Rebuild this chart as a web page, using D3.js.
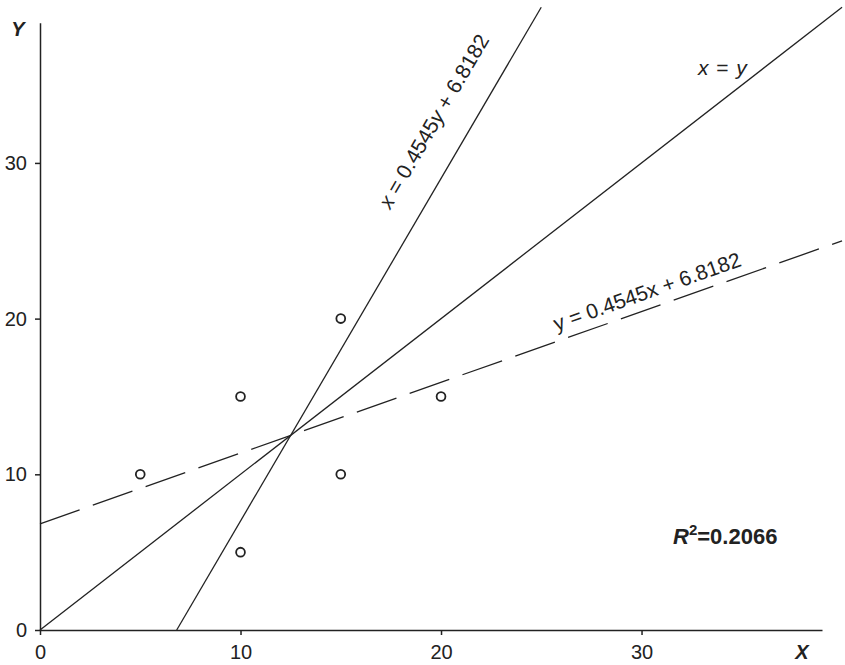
<!DOCTYPE html>
<html>
<head>
<meta charset="utf-8">
<script src="https://cdn.jsdelivr.net/npm/d3@7"></script>
<style>
  body { margin: 0; background: #fff; }
  svg { font-family: "Liberation Sans", Arial, Helvetica, sans-serif; }
  .tick line, .domain { stroke: #222; stroke-width: 1.5; }
  .tick text { font-size: 20px; fill: #222; }
</style>
</head>
<body>
<div id="chart"></div>
<script>
// Data
const xValues = [5, 10, 10, 15, 15, 20]
const yValues = [10, 15, 5, 20, 10, 15]
const xTicks = [0, 10, 20, 30]
const yTicks = [0, 10, 20, 30]
const slope = 0.4545
const intercept = 6.8182
const rSquared = '0.2066'
const lineExtent = [0, 40]

// Dimensions
let dimensions = {
  width: 845,
  height: 665,
  left: 40,
  right: 822,
  top: 22.8,
  bottom: 630,
}

const svg = d3.select('#chart')
  .append('svg')
  .attr('width', dimensions.width)
  .attr('height', dimensions.height)

// scales
const x = d3.scaleLinear()
  .domain([0, 39])
  .range([dimensions.left, dimensions.right])

const y = d3.scaleLinear()
  .domain([0, 39])
  .range([dimensions.bottom, dimensions.top])

// axes
svg.append('g')
  .attr('transform', `translate(0, ${dimensions.bottom})`)
  .call(d3.axisBottom(x).tickValues(xTicks).tickSize(5).tickSizeOuter(0).tickPadding(10))
  .call(g => g.selectAll('.tick text').attr('font-family', null))

svg.append('g')
  .attr('transform', `translate(${dimensions.left}, 0)`)
  .call(d3.axisLeft(y).tickValues(yTicks).tickSize(5).tickSizeOuter(0).tickPadding(8))
  .call(g => g.selectAll('.tick text').attr('font-family', null))

svg.append('text')
  .attr('x', 18).attr('y', 36)
  .attr('text-anchor', 'middle')
  .attr('font-size', 20).attr('font-weight', 'bold').attr('font-style', 'italic')
  .attr('fill', '#222')
  .text('Y')

svg.append('text')
  .attr('x', 802).attr('y', 659)
  .attr('text-anchor', 'middle')
  .attr('font-size', 20).attr('font-weight', 'bold').attr('font-style', 'italic')
  .attr('fill', '#222')
  .text('X')

// lines
const line = d3.line().x(d => x(d[0])).y(d => y(d[1]))

const lines = [
  { pts: lineExtent.map(v => [v, v]), dash: null },
  { pts: lineExtent.map(v => [slope * v + intercept, v]), dash: null },
  { pts: lineExtent.map(v => [v, slope * v + intercept]), dash: '42,14' },
]

svg.append('g')
  .attr('fill', 'none')
  .attr('stroke', '#222')
  .attr('stroke-width', 1.3)
  .selectAll('path')
  .data(lines)
  .join('path')
  .attr('d', d => line(d.pts))
  .attr('stroke-dasharray', d => d.dash)

// points
svg.append('g')
  .attr('fill', '#fff')
  .attr('stroke', '#222')
  .attr('stroke-width', 1.8)
  .selectAll('circle')
  .data(xValues)
  .join('circle')
  .attr('cx', d => x(d))
  .attr('cy', (d, i) => y(yValues[i]))
  .attr('r', 4.4)

// labels
function angleOf(f) {
  const p0 = f(lineExtent[0]), p1 = f(lineExtent[1])
  return Math.atan2(y(p1[1]) - y(p0[1]), x(p1[0]) - x(p0[0])) * 180 / Math.PI
}

const steep = svg.append('text')
  .attr('font-size', 21).attr('fill', '#222')
  .attr('text-anchor', 'middle')
  .attr('transform', `translate(${x(19.95)}, ${y(32.45)}) rotate(${angleOf(v => [slope * v + intercept, v])})`)
steep.append('tspan').attr('font-style', 'italic').text('x')
steep.append('tspan').text(' = 0.4545')
steep.append('tspan').attr('font-style', 'italic').text('y')
steep.append('tspan').text(' + 6.8182')

svg.append('text')
  .attr('font-size', 21).attr('fill', '#222')
  .attr('text-anchor', 'middle')
  .attr('transform', `translate(${x(30.4)}, ${y(21.3)}) rotate(${angleOf(v => [v, slope * v + intercept])})`)
  .text('y = 0.4545x + 6.8182')

const diag = svg.append('text')
  .attr('x', x(34.03)).attr('y', y(35.65))
  .attr('text-anchor', 'middle')
  .attr('font-size', 21).attr('fill', '#222')
  .attr('word-spacing', 2)
diag.append('tspan').attr('font-style', 'italic').text('x')
diag.append('tspan').text(' = ')
diag.append('tspan').attr('font-style', 'italic').text('y')

const r2 = svg.append('text')
  .attr('x', x(31.57)).attr('y', y(5.52))
  .attr('font-size', 22).attr('font-weight', 'bold').attr('fill', '#222')
r2.append('tspan').attr('font-style', 'italic').text('R')
r2.append('tspan').attr('font-size', 15).attr('dy', -9).text('2')
r2.append('tspan').attr('dy', 9).text('=' + rSquared)
</script>
</body>
</html>
